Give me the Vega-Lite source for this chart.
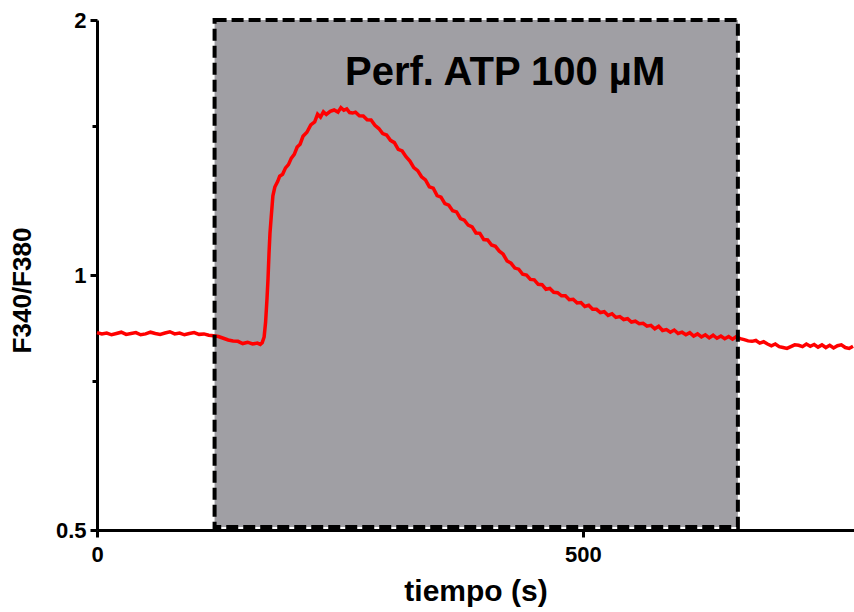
{
  "$schema": "https://vega.github.io/schema/vega-lite/v6.json",
  "width": 757,
  "height": 510,
  "autosize": {"type": "none"},
  "padding": {"left": 97, "top": 20, "right": 0, "bottom": 82},
  "background": "white",
  "config": {
    "view": {"stroke": null},
    "font": "Liberation Sans",
    "axis": {"domainColor": "black", "domainWidth": 3, "tickColor": "black", "tickWidth": 3, "grid": false, "labelFont": "Liberation Sans", "labelFontWeight": "bold", "labelColor": "black", "titleFont": "Liberation Sans", "titleFontWeight": "bold", "titleColor": "black", "labelFlush": false}
  },
  "datasets": {
    "box": [{"start": 121, "end": 659.5, "lo": 0.504, "hi": 2}],
    "label": [{"x": 420, "y": 1.676, "text": "Perf. ATP 100 µM"}],
    "trace": [
      {"t": 0, "r": 0.855}, {"t": 5, "r": 0.852}, {"t": 10, "r": 0.854}, {"t": 15, "r": 0.850}, {"t": 20, "r": 0.853},
      {"t": 25, "r": 0.856}, {"t": 30, "r": 0.851}, {"t": 35, "r": 0.853}, {"t": 40, "r": 0.855}, {"t": 45, "r": 0.850},
      {"t": 50, "r": 0.852}, {"t": 55, "r": 0.856}, {"t": 60, "r": 0.853}, {"t": 65, "r": 0.851}, {"t": 70, "r": 0.854},
      {"t": 75, "r": 0.857}, {"t": 80, "r": 0.852}, {"t": 85, "r": 0.854}, {"t": 90, "r": 0.850}, {"t": 95, "r": 0.853},
      {"t": 100, "r": 0.855}, {"t": 105, "r": 0.851}, {"t": 110, "r": 0.852}, {"t": 115, "r": 0.849}, {"t": 120, "r": 0.848},
      {"t": 125, "r": 0.846}, {"t": 130, "r": 0.842}, {"t": 135, "r": 0.838}, {"t": 140, "r": 0.836}, {"t": 145, "r": 0.835},
      {"t": 150, "r": 0.830}, {"t": 155, "r": 0.833}, {"t": 160, "r": 0.829}, {"t": 165, "r": 0.831}, {"t": 168, "r": 0.828},
      {"t": 170, "r": 0.832}, {"t": 172, "r": 0.845}, {"t": 173.5, "r": 0.88}, {"t": 175, "r": 0.94}, {"t": 176, "r": 0.99},
      {"t": 177, "r": 1.06}, {"t": 178, "r": 1.12}, {"t": 179.5, "r": 1.18}, {"t": 181, "r": 1.24}, {"t": 183, "r": 1.27},
      {"t": 186, "r": 1.29}, {"t": 188, "r": 1.308}, {"t": 191, "r": 1.315}, {"t": 194, "r": 1.338}, {"t": 197, "r": 1.350},
      {"t": 200, "r": 1.374}, {"t": 203, "r": 1.388}, {"t": 206, "r": 1.416}, {"t": 209, "r": 1.427}, {"t": 212, "r": 1.458},
      {"t": 216, "r": 1.474}, {"t": 220, "r": 1.504}, {"t": 224, "r": 1.516}, {"t": 227, "r": 1.548}, {"t": 230, "r": 1.536},
      {"t": 233, "r": 1.558}, {"t": 236, "r": 1.547}, {"t": 240, "r": 1.560}, {"t": 244, "r": 1.566}, {"t": 248, "r": 1.557},
      {"t": 251, "r": 1.576}, {"t": 254, "r": 1.565}, {"t": 257, "r": 1.571}, {"t": 260, "r": 1.555}, {"t": 263, "r": 1.553},
      {"t": 266, "r": 1.557}, {"t": 270, "r": 1.542}, {"t": 274, "r": 1.541}, {"t": 278, "r": 1.525}, {"t": 282, "r": 1.524},
      {"t": 286, "r": 1.502}, {"t": 290, "r": 1.489}, {"t": 294, "r": 1.469}, {"t": 298, "r": 1.463}, {"t": 302, "r": 1.442},
      {"t": 306, "r": 1.433}, {"t": 310, "r": 1.407}, {"t": 314, "r": 1.401}, {"t": 318, "r": 1.379}, {"t": 322, "r": 1.363},
      {"t": 326, "r": 1.339}, {"t": 330, "r": 1.328}, {"t": 334, "r": 1.306}, {"t": 338, "r": 1.295}, {"t": 342, "r": 1.271},
      {"t": 346, "r": 1.266}, {"t": 350, "r": 1.241}, {"t": 354, "r": 1.236}, {"t": 358, "r": 1.214}, {"t": 362, "r": 1.209},
      {"t": 366, "r": 1.191}, {"t": 370, "r": 1.187}, {"t": 374, "r": 1.166}, {"t": 378, "r": 1.161}, {"t": 382, "r": 1.145},
      {"t": 386, "r": 1.140}, {"t": 390, "r": 1.121}, {"t": 394, "r": 1.120}, {"t": 398, "r": 1.101}, {"t": 402, "r": 1.100},
      {"t": 406, "r": 1.085}, {"t": 410, "r": 1.081}, {"t": 414, "r": 1.067}, {"t": 418, "r": 1.058}, {"t": 422, "r": 1.039},
      {"t": 426, "r": 1.033}, {"t": 430, "r": 1.019}, {"t": 434, "r": 1.016}, {"t": 438, "r": 1.002}, {"t": 442, "r": 1.000},
      {"t": 446, "r": 0.988}, {"t": 450, "r": 0.987}, {"t": 454, "r": 0.975}, {"t": 458, "r": 0.974}, {"t": 462, "r": 0.962},
      {"t": 466, "r": 0.964}, {"t": 470, "r": 0.954}, {"t": 474, "r": 0.953}, {"t": 478, "r": 0.945}, {"t": 482, "r": 0.945},
      {"t": 486, "r": 0.935}, {"t": 490, "r": 0.936}, {"t": 494, "r": 0.927}, {"t": 498, "r": 0.928}, {"t": 502, "r": 0.918},
      {"t": 506, "r": 0.921}, {"t": 510, "r": 0.911}, {"t": 514, "r": 0.911}, {"t": 518, "r": 0.903}, {"t": 522, "r": 0.905},
      {"t": 526, "r": 0.896}, {"t": 530, "r": 0.900}, {"t": 534, "r": 0.891}, {"t": 538, "r": 0.893}, {"t": 542, "r": 0.886},
      {"t": 546, "r": 0.888}, {"t": 550, "r": 0.880}, {"t": 554, "r": 0.882}, {"t": 558, "r": 0.876}, {"t": 562, "r": 0.877},
      {"t": 566, "r": 0.870}, {"t": 570, "r": 0.872}, {"t": 574, "r": 0.864}, {"t": 578, "r": 0.870}, {"t": 582, "r": 0.860},
      {"t": 586, "r": 0.862}, {"t": 590, "r": 0.856}, {"t": 594, "r": 0.861}, {"t": 598, "r": 0.853}, {"t": 602, "r": 0.856},
      {"t": 606, "r": 0.850}, {"t": 610, "r": 0.855}, {"t": 614, "r": 0.847}, {"t": 618, "r": 0.852}, {"t": 622, "r": 0.845},
      {"t": 626, "r": 0.850}, {"t": 630, "r": 0.843}, {"t": 634, "r": 0.849}, {"t": 638, "r": 0.842}, {"t": 642, "r": 0.847},
      {"t": 646, "r": 0.841}, {"t": 650, "r": 0.846}, {"t": 654, "r": 0.840}, {"t": 658, "r": 0.846}, {"t": 662, "r": 0.841},
      {"t": 666, "r": 0.839}, {"t": 670, "r": 0.836}, {"t": 674, "r": 0.835}, {"t": 678, "r": 0.837}, {"t": 682, "r": 0.831},
      {"t": 686, "r": 0.834}, {"t": 690, "r": 0.829}, {"t": 694, "r": 0.825}, {"t": 698, "r": 0.829}, {"t": 702, "r": 0.823},
      {"t": 706, "r": 0.821}, {"t": 710, "r": 0.819}, {"t": 714, "r": 0.823}, {"t": 718, "r": 0.827}, {"t": 722, "r": 0.826},
      {"t": 726, "r": 0.823}, {"t": 730, "r": 0.829}, {"t": 734, "r": 0.824}, {"t": 738, "r": 0.828}, {"t": 742, "r": 0.822},
      {"t": 746, "r": 0.827}, {"t": 750, "r": 0.821}, {"t": 754, "r": 0.826}, {"t": 758, "r": 0.820}, {"t": 762, "r": 0.825},
      {"t": 766, "r": 0.827}, {"t": 770, "r": 0.821}, {"t": 774, "r": 0.819}, {"t": 778, "r": 0.824}
    ]
  },
  "layer": [
    {
      "data": {"name": "box"},
      "mark": {"type": "rect", "fill": "#a09fa4", "stroke": null},
      "encoding": {
        "x": {"field": "start", "type": "quantitative", "scale": {"domain": [0, 779], "nice": false, "zero": false},
          "axis": {"values": [0, 500], "tickSize": 7, "labelFontSize": 22, "labelPadding": 7, "title": "tiempo (s)", "titleFontSize": 30, "titleBaseline": "alphabetic", "titleY": 70}},
        "x2": {"field": "end"},
        "y": {"field": "lo", "type": "quantitative", "scale": {"type": "log", "domain": [0.5, 2], "nice": false, "zero": false},
          "axis": {"values": [0.5, 0.75, 1, 1.5, 2], "tickSize": {"condition": {"test": "datum.value == 0.75 || datum.value == 1.5", "value": 5}, "value": 7},
            "labelExpr": "datum.value == 0.75 || datum.value == 1.5 ? '' : format(datum.value, '~g')",
            "labelFontSize": 22, "labelPadding": 4, "title": "F340/F380", "titleFontSize": 26, "titleX": -62, "titleY": 270}},
        "y2": {"field": "hi"}
      }
    },
    {
      "data": {"name": "trace"},
      "mark": {"type": "line", "color": "#ff0000", "strokeWidth": 3.5, "interpolate": "linear"},
      "encoding": {
        "x": {"field": "t", "type": "quantitative"},
        "y": {"field": "r", "type": "quantitative"}
      }
    },
    {
      "data": {"name": "box"},
      "mark": {"type": "rect", "fill": null, "fillOpacity": 0, "stroke": "black", "strokeWidth": 4, "strokeDash": [12, 5]},
      "encoding": {
        "x": {"field": "start", "type": "quantitative"},
        "x2": {"field": "end"},
        "y": {"field": "lo", "type": "quantitative"},
        "y2": {"field": "hi"}
      }
    },
    {
      "data": {"name": "label"},
      "mark": {"type": "text", "fontSize": 40, "fontWeight": "bold", "font": "Liberation Sans", "color": "black", "align": "center", "baseline": "alphabetic"},
      "encoding": {
        "x": {"field": "x", "type": "quantitative"},
        "y": {"field": "y", "type": "quantitative"},
        "text": {"field": "text"}
      }
    }
  ]
}
